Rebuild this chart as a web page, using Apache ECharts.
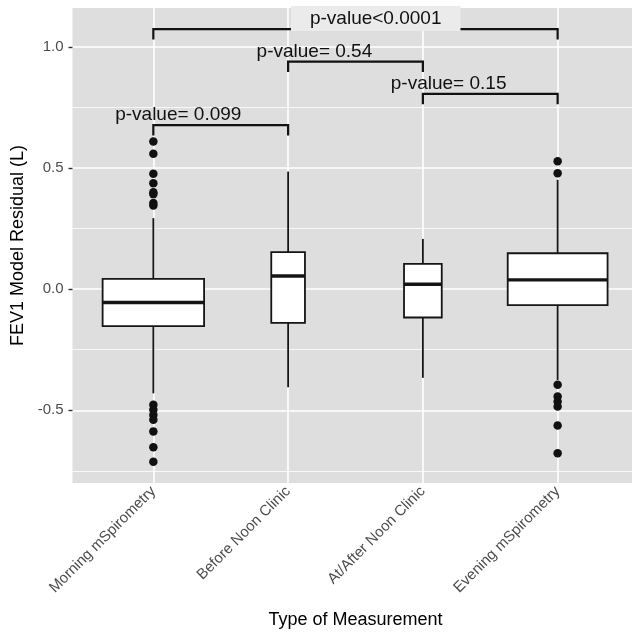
<!DOCTYPE html>
<html>
<head>
<meta charset="utf-8">
<script src="https://cdn.jsdelivr.net/npm/echarts@6/dist/echarts.min.js"></script>
<style>
  html, body { margin: 0; padding: 0; background: #ffffff; }
  #chart { width: 632px; height: 632px; }
</style>
</head>
<body>
<div id="chart"></div>
<script>
// ---------------- data ----------------
const categories = ['Morning mSpirometry', 'Before Noon Clinic', 'At/After Noon Clinic', 'Evening mSpirometry'];
const whiskerLow  = [-0.430, -0.405, -0.366, -0.375];
const q1          = [-0.153, -0.139, -0.117, -0.066];
const median      = [-0.055,  0.054,  0.020,  0.038];
const q3          = [ 0.042,  0.153,  0.104,  0.148];
const whiskerHigh = [ 0.293,  0.485,  0.207,  0.451];
const morningOutliers = [0.609, 0.559, 0.476, 0.437, 0.400, 0.392, 0.355, 0.345,
                         -0.477, -0.498, -0.519, -0.539, -0.587, -0.652, -0.712];
const beforeNoonOutliers = [];
const afterNoonOutliers = [];
const eveningOutliers = [0.528, 0.478, -0.395, -0.443, -0.464, -0.484, -0.563, -0.677];
const yTickValues = [-0.5, 0.0, 0.5, 1.0];
const yMinorValues = [-0.75, -0.25, 0.25, 0.75];
// comparisons (1-based group positions), bracket heights, labels
const compareFrom = [1, 2, 3, 1];
const compareTo   = [2, 3, 4, 4];
const bracketY    = [0.677, 0.939, 0.806, 1.073];
const pLabels     = ['p-value= 0.099', 'p-value= 0.54', 'p-value= 0.15', 'p-value<0.0001'];
const pLabelX     = [1.185, 2.195, 3.191, 2.650];
const pLabelY     = [0.719, 0.981, 0.848, 1.117];

// ---------------- styling ----------------
const boxWidths = [0.753, 0.250, 0.280, 0.741]; // varwidth boxes, in category units
const tipLen = 0.043;
const FONT = 'Liberation Sans, Arial, Helvetica, sans-serif';
const INK = '#151515';

const boxData = categories.map((c, i) => [i + 1, whiskerLow[i], q1[i], median[i], q3[i], whiskerHigh[i], boxWidths[i]]);
const allOutliers = [morningOutliers, beforeNoonOutliers, afterNoonOutliers, eveningOutliers];
const outlierData = [];
allOutliers.forEach((arr, i) => arr.forEach(v => outlierData.push([i + 1, v])));
const bracketData = compareFrom.map((f, i) => [f, compareTo[i], bracketY[i]]);
const labelData = pLabels.map((t, i) => [pLabelX[i], pLabelY[i], t]);

const chart = echarts.init(document.getElementById('chart'), null, { renderer: 'canvas' });
chart.setOption({
  animation: false,
  backgroundColor: '#ffffff',
  grid: { left: 72.5, top: 8, width: 566, height: 475, show: true, backgroundColor: '#dedede', borderWidth: 0,
          containLabel: false, outerBoundsMode: 'none' },
  xAxis: {
    type: 'value', min: 0.4, max: 4.6,
    axisLine: { show: false },
    axisTick: { show: true, length: 4, customValues: [1, 2, 3, 4], lineStyle: { color: '#333', width: 1.4 } },
    axisLabel: {
      customValues: [1, 2, 3, 4],
      formatter: v => categories[Math.round(v) - 1],
      rotate: 45, fontSize: 15, color: '#4d4d4d', margin: 6, fontFamily: FONT
    },
    splitLine: { show: true, lineStyle: { color: '#ffffff', width: 1.6 } },
    name: 'Type of Measurement', nameLocation: 'middle', nameGap: 128,
    nameTextStyle: { fontSize: 18, color: '#000', fontFamily: FONT }
  },
  yAxis: [{
    type: 'value', min: -0.8, max: 1.16,
    axisLine: { show: false },
    axisTick: { show: true, length: 4, customValues: yTickValues, lineStyle: { color: '#333', width: 1.4 } },
    axisLabel: { customValues: yTickValues, formatter: v => v.toFixed(1), fontSize: 15, color: '#4d4d4d', margin: 9, fontFamily: FONT },
    splitLine: { show: true, lineStyle: { color: '#ffffff', width: 1.6 } },
    name: 'FEV1 Model Residual (L)', nameLocation: 'middle', nameGap: 32,
    nameTextStyle: { fontSize: 18, color: '#000', fontFamily: FONT }
  }, {
    type: 'value', min: -0.8, max: 1.16, position: 'right',
    axisLine: { show: false },
    axisTick: { show: false, customValues: yMinorValues },
    axisLabel: { show: false, customValues: yMinorValues },
    splitLine: { show: true, lineStyle: { color: '#ffffff', width: 0.8 } }
  }],
  series: [
    {
      type: 'custom', name: 'boxes', data: boxData, z: 3,
      encode: { x: 0, y: [1, 2, 3, 4, 5] },
      renderItem: (params, api) => {
        const x = api.value(0), lo = api.value(1), a = api.value(2), m = api.value(3), b = api.value(4), hi = api.value(5), w = api.value(6);
        const pTop = api.coord([x, hi]), pQ3 = api.coord([x, b]), pQ1 = api.coord([x, a]), pLow = api.coord([x, lo]);
        const left = api.coord([x - w / 2, b]), right = api.coord([x + w / 2, a]);
        const mL = api.coord([x - w / 2, m]), mR = api.coord([x + w / 2, m]);
        return {
          type: 'group',
          children: [
            { type: 'line', shape: { x1: pTop[0], y1: pTop[1], x2: pQ3[0], y2: pQ3[1] }, style: { stroke: INK, lineWidth: 1.8 } },
            { type: 'line', shape: { x1: pQ1[0], y1: pQ1[1], x2: pLow[0], y2: pLow[1] }, style: { stroke: INK, lineWidth: 1.8 } },
            { type: 'rect', shape: { x: left[0], y: left[1], width: right[0] - left[0], height: right[1] - left[1] }, style: { fill: '#ffffff', stroke: INK, lineWidth: 1.8 } },
            { type: 'line', shape: { x1: mL[0], y1: mL[1], x2: mR[0], y2: mR[1] }, style: { stroke: INK, lineWidth: 3.4 } }
          ]
        };
      }
    },
    {
      type: 'scatter', name: 'outliers', data: outlierData, symbol: 'circle', symbolSize: 8.5, z: 4,
      itemStyle: { color: '#111111', opacity: 1 }
    },
    {
      type: 'custom', name: 'brackets', data: bracketData, z: 5,
      encode: { x: [0, 1], y: 2 },
      renderItem: (params, api) => {
        const x1 = api.value(0), x2 = api.value(1), y = api.value(2);
        const pts = [api.coord([x1, y - tipLen]), api.coord([x1, y]), api.coord([x2, y]), api.coord([x2, y - tipLen])];
        return { type: 'polyline', shape: { points: pts }, style: { stroke: '#111', lineWidth: 2.2, fill: null } };
      }
    },
    {
      type: 'custom', name: 'pvalues', data: labelData, z: 6, clip: false,
      encode: { x: 0, y: 1 },
      renderItem: (params, api) => {
        const i = params.dataIndex;
        const p = api.coord([labelData[i][0], labelData[i][1]]);
        const isTop = i === 3;
        return {
          type: 'text',
          style: {
            text: labelData[i][2], x: p[0], y: p[1], align: 'center', verticalAlign: 'middle',
            fontSize: 19, fontFamily: FONT, fill: '#111',
            backgroundColor: isTop ? '#ebebeb' : null,
            padding: isTop ? [4, 19, 2, 19] : 0
          }
        };
      }
    }
  ]
});
</script>
</body>
</html>
